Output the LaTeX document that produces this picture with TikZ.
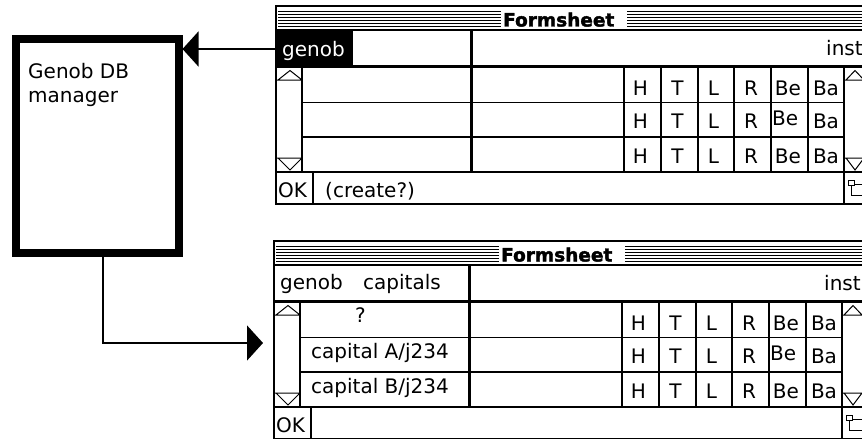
\documentclass[tikz,border=0pt]{standalone}
\usepackage{fontspec}
\setmainfont{DejaVu Sans}
\newfontfamily\titlefont{DejaVu Sans}[FakeBold=2]
\usetikzlibrary{arrows.meta}
\newcommand\txtsz{\fontsize{20}{24}\selectfont}
\newcommand\ttlsz{\fontsize{18.5}{22}\selectfont}
\tikzset{
  txt/.style={inner sep=0pt, anchor=base west, font=\txtsz},
  ctxt/.style={inner sep=0pt, anchor=base, font=\txtsz},
  ttl/.style={inner sep=0pt, anchor=base west, font=\titlefont\bfseries\ttlsz},
  frame/.style={line width=1.5pt},
  thickline/.style={line width=3pt},
  gridline/.style={line width=1.2pt},
  thinline/.style={line width=1pt},
  stripe/.style={line width=1.4pt},
  conn/.style={line width=1.5pt, -{Triangle[length=16pt,width=35pt]}},
  mgrbox/.style={draw, line width=8pt, minimum width=163pt, minimum height=214.5pt, inner sep=0pt},
}
\newcommand\formsheet[1]{%
  \node[draw, frame, anchor=north west, outer sep=0pt, minimum width=600pt, minimum height=198pt, inner sep=0pt] (#1box) at (276,6) {};
  \foreach \yy in {11.5,14.5,17.5,20.5,23.5,26.5} {
    \draw[stripe] (278,\yy) -- (501,\yy);
    \draw[stripe] (627,\yy) -- (870,\yy);
  }
  \node[ttl] (#1title) at (503,26.5) {Formsheet};
  \draw[line width=2pt] (276,30) -- (870,30);
  \draw[thickline] (276,66.5) -- (870,66.5);
  \draw[thickline] (471,30) -- (471,172);
  \node[txt] (#1inst) at (826,55) {inst};
  \draw[gridline] (302,68) -- (302,172);
  \draw[gridline] (302,102.5) -- (844,102.5) (302,137) -- (844,137);
  \foreach \xx in {624,661,698,734,771,808} \draw[gridline] (\xx,68) -- (\xx,172);
  \draw[gridline] (844,68) -- (844,204);
  \draw[line width=2pt] (276,172) -- (870,172);
  \draw[gridline] (313,172) -- (313,204);
  % scroll arrows
  \draw[thinline] (276,80) -- (302,80) (278,80) -- (290,70.5) -- (302,80);
  \draw[thinline] (276,158) -- (302,158) (278,158) -- (290,170) -- (302,158);
  \draw[thinline] (844,80) -- (870,80) (846,80) -- (855,70.5) -- (864,80);
  \draw[thinline] (844,158) -- (870,158) (846,158) -- (855,170) -- (864,158);
  % resize icon
  \draw[thinline] (851,184) rectangle (868,195);
  \draw[thinline, fill=white] (848,180) rectangle (854,185.5);
  % grid letters
  \foreach \cx/\lt [count=\i] in {640.5/H,677.5/T,713.5/L,751/R,788/Be,826/Ba} {
    \node[ctxt] (#1ra\i) at (\cx,95) {\lt};
    \node[ctxt] (#1rc\i) at (\cx,163) {\lt};
  }
  \foreach \cx/\lt [count=\i] in {640.5/H,677.5/T,713.5/L,751/R,826/Ba} {
    \node[ctxt] (#1rb\i) at (\cx,128) {\lt};
  }
  \node[txt] (#1rbBe) at (772,125) {Be};
  \node[txt] (#1ok) at (278,197) {OK};
}
\begin{document}
\begin{tikzpicture}[x=1pt,y=-1pt]
\useasboundingbox (0,0) rectangle (862,439);
\clip (0,0) rectangle (862,439);
% manager box
\node[mgrbox] (mgr) at (97,145.75) {};
\node[txt] (mgrl1) at (28,78) {Genob DB};
\node[txt] (mgrl2) at (28,102) {manager};
% upper formsheet
\begin{scope}
  \fill (276,30) rectangle (353,65);
  \formsheet{fa}
  \node[txt, text=white] (fagenob) at (282,56.5) {genob};
  \node[txt] (facreate) at (325,197) {(create?)};
\end{scope}
% lower formsheet
\begin{scope}[shift={(-2,235)}]
  \formsheet{fb}
  \node[txt] (fbgenob) at (282,54.5) {genob};
  \node[txt] (fbcap) at (365,54.5) {capitals};
  \node[txt] (fbq) at (357,87) {?};
  \node[txt] (fbcapa) at (313,123) {capital A/j234};
  \node[txt] (fbcapb) at (313,158) {capital B/j234};
\end{scope}
% connectors
\coordinate (a1) at (276,49);
\draw[conn] (a1) -- (a1 -| mgr.east);
\coordinate (b0) at (103,257);
\coordinate (b1) at (263,343);
\draw[conn] (b0) |- (b1);
\end{tikzpicture}
\end{document}
